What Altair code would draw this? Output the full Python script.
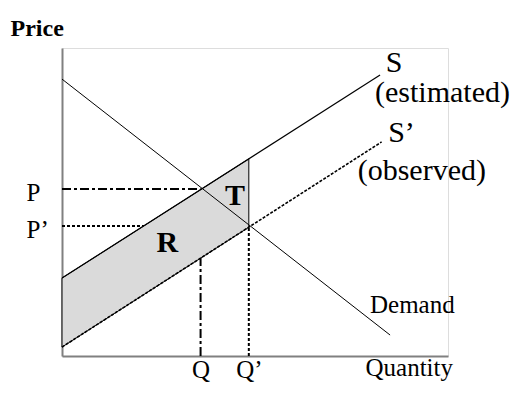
import altair as alt
import pandas as pd

# ---- values (Quantity, Price), axis range 0..10 ----
demand_q = [0.0, 8.50]
demand_p = [8.99, 0.68]
supply_q = [0.0, 8.24]          # S (estimated)
supply_p = [2.53, 9.12]
supply_obs_q = [0.0, 8.28]      # S' (observed)
supply_obs_p = [0.29, 6.95]

Q_val, Q2_val = 3.59, 4.84      # Q, Q'
P_val, P2_val = 5.42, 4.22      # P, P'
s_obs_at_Q = 3.18               # S' height at Q
s_at_Q2 = 6.40                  # S height at Q'
s_obs_at_Q2 = 4.18              # S' height at Q'

shade_q = [0.0, Q2_val]
shade_top = [2.53, s_at_Q2]
shade_bottom = [0.29, s_obs_at_Q2]

x_ticks = [Q_val, Q2_val]
x_tick_labels = ["Q", "Q\u2019"]
y_ticks = [P2_val, P_val]
y_tick_labels = ["P\u2019", "P"]

big_text = ["S", "(estimated)", "S\u2019", "(observed)"]
big_q = [8.39, 8.11, 8.45, 7.66]
big_p = [9.23, 8.26, 6.96, 5.71]
demand_text = ["Demand"]
demand_tq = [7.98]
demand_tp = [1.40]
bold_text = ["T", "R"]
bold_q = [4.48, 2.73]
bold_p = [4.90, 3.38]

FONT = "Liberation Serif"


def label_expr(vals, labs):
    expr = "''"
    for v, l in zip(vals, labs):
        expr = f"datum.value === {v} ? '{l}' : ({expr})"
    return expr


x_axis = alt.Axis(values=x_ticks, labelExpr=label_expr(x_ticks, x_tick_labels),
                  title="Quantity", titleAngle=0, titleAlign="left", titleBaseline="alphabetic",
                  titleX=303, titleY=19, titleFont=FONT, titleFontSize=25,
                  titleFontWeight="normal", titleColor="black",
                  labelFont=FONT, labelFontSize=25, labelColor="black", labelAlign="center",
                  labelBaseline="alphabetic", labelPadding=21, labelOverlap=False,
                  ticks=False, tickSize=0, grid=False, domainColor="#808080", domainWidth=2)
y_axis = alt.Axis(values=y_ticks, labelExpr=label_expr(y_ticks, y_tick_labels),
                  title="Price", titleAngle=0, titleAlign="left", titleBaseline="alphabetic",
                  titleX=-52, titleY=-13, titleFont=FONT, titleFontSize=24,
                  titleFontWeight="bold", titleColor="black",
                  labelFont=FONT, labelFontSize=25, labelColor="black", labelAlign="left",
                  labelBaseline="alphabetic", labelPadding=36, labelOffset=11, labelOverlap=False,
                  ticks=False, tickSize=0, grid=False, domainColor="#808080", domainWidth=2)

xs = alt.Scale(domain=[0, 10], nice=False, zero=False)
ys = alt.Scale(domain=[0, 10], nice=False, zero=False)


def X(field="q"):
    return alt.X(f"{field}:Q", scale=xs, axis=x_axis)


def Y(field="p"):
    return alt.Y(f"{field}:Q", scale=ys, axis=y_axis)


def seg(qs, ps, dash=None, width=1.0):
    df = pd.DataFrame({"q": qs, "p": ps})
    kw = dict(color="black", strokeWidth=width, clip=False)
    if dash is not None:
        kw["strokeDash"] = dash
    return alt.Chart(df).mark_line(**kw).encode(x=X(), y=Y())


# P' guide first so the shading covers it
p2_guide = seg([0.0, Q2_val], [P2_val, P2_val], dash=[3, 2], width=2)

shade = alt.Chart(pd.DataFrame({"q": shade_q, "p": shade_top, "p2": shade_bottom})).mark_area(
    color="#dadada", stroke="black", strokeWidth=1, opacity=1
).encode(x=X(), y=Y(), y2="p2:Q")

p_guide = seg([0.0, Q_val], [P_val, P_val], dash=[9, 3, 3, 3], width=2)
q_guide = seg([Q_val, Q_val], [0.0, s_obs_at_Q], dash=[9, 3, 3, 3], width=2)
q2_guide = seg([Q2_val, Q2_val], [0.0, P2_val], dash=[3, 2], width=2)

demand = seg(demand_q, demand_p, width=1)
supply = seg(supply_q, supply_p, width=1.2)
supply_obs = seg(supply_obs_q, supply_obs_p, dash=[3, 1.5], width=1.6)

big = alt.Chart(pd.DataFrame({"q": big_q, "p": big_p, "t": big_text})).mark_text(
    font=FONT, fontSize=30, align="left", baseline="alphabetic", color="black"
).encode(x=X(), y=Y(), text="t:N")
dem_lab = alt.Chart(pd.DataFrame({"q": demand_tq, "p": demand_tp, "t": demand_text})).mark_text(
    font=FONT, fontSize=25, align="left", baseline="alphabetic", color="black"
).encode(x=X(), y=Y(), text="t:N")
bold = alt.Chart(pd.DataFrame({"q": bold_q, "p": bold_p, "t": bold_text})).mark_text(
    font=FONT, fontSize=30, fontWeight="bold", align="center", baseline="alphabetic", color="black"
).encode(x=X(), y=Y(), text="t:N")

chart = alt.layer(
    p2_guide, shade, p_guide, q_guide, q2_guide, demand, supply, supply_obs, big, dem_lab, bold
).properties(
    width=386, height=308,
    padding={"left": 54, "top": 40, "right": 63, "bottom": 27},
    autosize=alt.AutoSizeParams(type="none"),
).configure_view(stroke=None).configure(background="white")

chart.save("out.html", embed_options={"renderer": "svg", "actions": False})
